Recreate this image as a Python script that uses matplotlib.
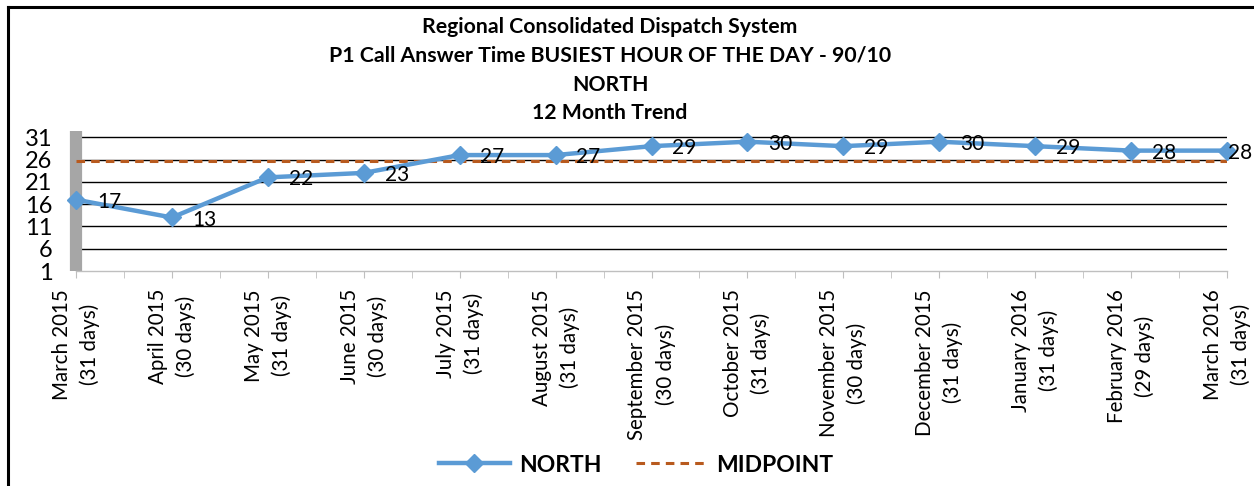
import matplotlib
matplotlib.use("Agg")
import matplotlib.pyplot as plt
from matplotlib.lines import Line2D

plt.rcParams['font.family'] = ['Lato', 'DejaVu Sans']

months = ["March 2015", "April 2015", "May 2015", "June 2015", "July 2015",
          "August 2015", "September 2015", "October 2015", "November 2015",
          "December 2015", "January 2016", "February 2016", "March 2016"]
days = [31, 30, 31, 30, 31, 31, 30, 31, 30, 31, 31, 29, 31]
north = [17, 13, 22, 23, 27, 27, 29, 30, 29, 30, 29, 28, 28]
midpoint = 25.6
yticks = [1, 6, 11, 16, 21, 26, 31]
titles = ["Regional Consolidated Dispatch System",
          "P1 Call Answer Time BUSIEST HOUR OF THE DAY - 90/10",
          "NORTH",
          "12 Month Trend"]

blue = "#5B9BD5"
brown = "#B85A1E"

fig = plt.figure(figsize=(12.54, 4.86), dpi=100)
ax = fig.add_axes([76 / 1254, 1 - 271 / 486, 1151 / 1254, 140 / 486])

x = list(range(len(north)))
labels = [f"{m}\n({d} days)" for m, d in zip(months, days)]

# gridlines (not at the base)
for v in yticks[1:]:
    ax.axhline(v, color="black", lw=1.0, zorder=1)

# thick grey bar standing in for the value axis
ax.axvline(0, color="#A6A6A6", lw=8.8, zorder=2, clip_on=False, solid_capstyle="butt")

ax.plot(x, [midpoint] * len(x), color=brown, lw=2.2, linestyle=(0, (2.8, 2.0)), zorder=3,
        label="MIDPOINT")
ax.plot(x, north, color=blue, lw=3.2, marker="D", markersize=9, zorder=4, label="NORTH",
        clip_on=False)

for xi, v in zip(x, north):
    dx = 15 if xi < len(north) - 1 else 1
    ax.annotate(str(v), (xi, v), xytext=(dx, -1.5), textcoords="offset points",
                ha="left", va="center", fontsize=15, color="black", zorder=5,
                annotation_clip=False)

ax.set_xlim(0, len(north) - 1)
ax.set_ylim(1, 32.4)
ax.set_yticks(yticks)
ax.set_yticklabels([str(v) for v in yticks], fontsize=17)
ax.tick_params(axis="y", length=0, pad=17)

ax.set_xticks(x)
ax.set_xticklabels(labels, rotation=90, fontsize=14.8, ha="center", va="top",
                   multialignment="center", linespacing=1.45)
ax.set_xticks([i + 0.5 for i in x[:-1]], minor=True)
ax.tick_params(axis="x", which="both", length=5, color="#BFBFBF", direction="out", pad=8)

for s in ["top", "right", "left"]:
    ax.spines[s].set_visible(False)
ax.spines["bottom"].set_color("#BFBFBF")
ax.spines["bottom"].set_linewidth(1)

title_y = [27, 55, 85, 113]
for t, yy in zip(titles, title_y):
    fig.text(610 / 1254, 1 - yy / 486, t, ha="center", va="center",
             fontsize=15.3, fontweight="bold")

handles = [Line2D([], [], color=blue, lw=3.2, marker="D", markersize=9),
           Line2D([], [], color=brown, lw=2.2, linestyle=(0, (2.8, 2.0)))]
leg = fig.legend(handles, ["NORTH", "MIDPOINT"], loc="center", ncol=2,
                 bbox_to_anchor=(636 / 1254, 1 - 465 / 486), frameon=False,
                 prop={"weight": "bold", "size": 16.5}, handlelength=3.1,
                 columnspacing=1.5, handletextpad=0.4, numpoints=1)

# chart border (left and top edges)
fig.add_artist(Line2D([7.5 / 1254, 7.5 / 1254], [0, 1 - 7.5 / 486], color="black", lw=2.2,
                      transform=fig.transFigure))
fig.add_artist(Line2D([7.5 / 1254, 1], [1 - 7.5 / 486, 1 - 7.5 / 486], color="black", lw=2.2,
                      transform=fig.transFigure))

fig.savefig("out.png", dpi=100)
